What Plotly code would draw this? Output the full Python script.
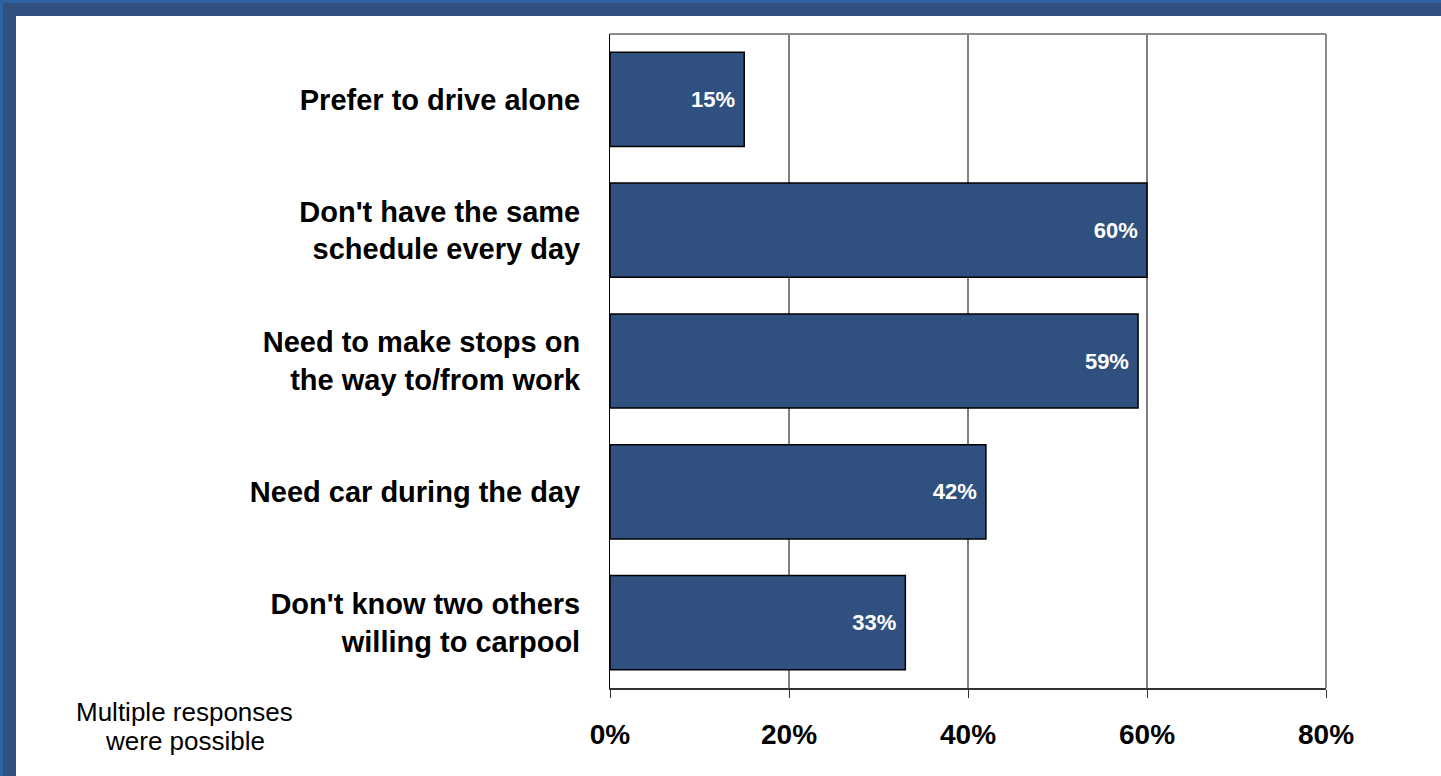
import plotly.graph_objects as go

# Survey: reasons for not carpooling (share of respondents)
categories = [
    "Prefer to drive alone",
    "Don't have the same<br>schedule every day",
    "Need to make stops on<br>the way to/from work",
    "Need car during the day",
    "Don't know two others<br>willing to carpool",
]
values = [15, 60, 59, 42, 33]
value_labels = ["15%", "60%", "59%", "42%", "33%"]
x_ticks = [0, 20, 40, 60, 80]
x_tick_labels = ["0%", "20%", "40%", "60%", "80%"]
grid_at = [20, 40, 60]
footnote = ["Multiple responses", "were possible"]

W, H = 1441, 776
L, R, T, B = 610, 115, 34, 88
PW, PH = W - L - R, H - T - B

def px_x(p):
    return (p - L) / PW

def px_y(p):
    return (H - B - p) / PH

BAR = "#30507F"
FRAME_DARK = "#30507F"
FRAME_LIGHT = "#2E62A0"

fig = go.Figure(
    go.Bar(
        x=values,
        y=categories,
        orientation="h",
        width=0.72,
        marker=dict(color=BAR, line=dict(color="#000000", width=1.5)),
        text=value_labels,
        texttemplate="%{text}\u00a0",
        textposition="inside",
        insidetextanchor="end",
        textangle=0,
        textfont=dict(family="Liberation Sans Narrow, Arial Narrow, Liberation Sans, Arial",
                      size=22, color="white", weight="bold"),
        hoverinfo="skip",
    )
)

shapes = []
# vertical gridlines
for g in grid_at:
    shapes.append(dict(type="line", xref="x", yref="paper", x0=g, x1=g, y0=0, y1=1,
                       line=dict(color="#000000", width=1), layer="below"))
# grey plot border on top and right
shapes.append(dict(type="line", xref="paper", yref="paper", x0=0, x1=1, y0=1, y1=1,
                   line=dict(color="#8C8C8C", width=2), layer="below"))
shapes.append(dict(type="line", xref="paper", yref="paper", x0=1, x1=1, y0=0, y1=1,
                   line=dict(color="#8C8C8C", width=2), layer="below"))
# blue frame along the top and left edges of the page
shapes.append(dict(type="rect", xref="paper", yref="paper", x0=px_x(0), x1=px_x(W), y0=px_y(16), y1=px_y(0),
                   fillcolor=FRAME_DARK, line=dict(width=0), layer="above"))
shapes.append(dict(type="rect", xref="paper", yref="paper", x0=px_x(0), x1=px_x(16), y0=px_y(H), y1=px_y(0),
                   fillcolor=FRAME_DARK, line=dict(width=0), layer="above"))
shapes.append(dict(type="rect", xref="paper", yref="paper", x0=px_x(0), x1=px_x(W), y0=px_y(3), y1=px_y(0),
                   fillcolor=FRAME_LIGHT, line=dict(width=0), layer="above"))
shapes.append(dict(type="rect", xref="paper", yref="paper", x0=px_x(0), x1=px_x(3), y0=px_y(H), y1=px_y(0),
                   fillcolor=FRAME_LIGHT, line=dict(width=0), layer="above"))

annotations = [
    dict(text=footnote[0], xref="paper", yref="paper", x=px_x(185), y=px_y(712),
         xanchor="center", yanchor="middle", showarrow=False,
         font=dict(family="Liberation Sans, Arial", size=26, color="#000000")),
    dict(text=footnote[1], xref="paper", yref="paper", x=px_x(185), y=px_y(741),
         xanchor="center", yanchor="middle", showarrow=False,
         font=dict(family="Liberation Sans, Arial", size=26, color="#000000")),
]

fig.update_layout(
    width=W, height=H,
    margin=dict(l=L, r=R, t=T, b=B, pad=0),
    paper_bgcolor="white",
    plot_bgcolor="white",
    showlegend=False,
    bargap=0.28,
    shapes=shapes,
    annotations=annotations,
    xaxis=dict(
        range=[0, 80],
        tickvals=x_ticks,
        ticktext=x_tick_labels,
        showgrid=False,
        zeroline=False,
        showline=True,
        linecolor="#333333",
        linewidth=2,
        ticks="outside",
        ticklen=8,
        tickwidth=1,
        tickcolor="#333333",
        ticklabelstandoff=12,
        tickfont=dict(family="Liberation Sans, Arial", size=28, color="#000000", weight="bold"),
        fixedrange=True,
    ),
    yaxis=dict(
        autorange="reversed",
        showgrid=False,
        zeroline=False,
        showline=True,
        linecolor="#000000",
        linewidth=1,
        ticks="",
        ticklabelstandoff=23,
        tickfont=dict(family="Liberation Sans, Arial", size=29, color="#000000", weight="bold"),
        fixedrange=True,
    ),
)

fig.write_html("out.html", config={"displayModeBar": False})
